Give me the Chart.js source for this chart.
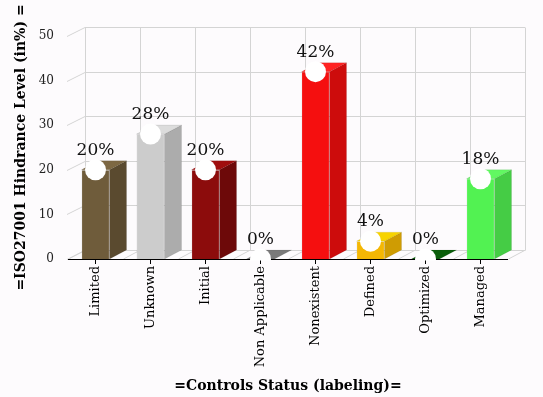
<!DOCTYPE html>
<html lang="en">
<head>
    <meta charset="UTF-8">
    <title>ISO27001 Hindrance Level</title>
    <style>
        body {
            margin: 0;
            padding: 0;
            background-color: #fdfbfd;
        }

        .chart-box {
            width: 543px;
            height: 397px;
            position: relative;
        }
    </style>
</head>
<body>
    <div class="chart-box">
        <canvas id="plot"></canvas>
    </div>
    <script src="https://cdn.jsdelivr.net/npm/chart.js"></script>
    <script>
        const categories = ['Limited', 'Unknown', 'Initial', 'Non Applicable', 'Nonexistent', 'Defined', 'Optimized', 'Managed'];
        const hindrance = [20, 28, 20, 0, 42, 4, 0, 18];
        const yMin = 0;
        const yMax = 50;
        const yStep = 10;

        // face colours for the fake 3d bars
        const frontColors = ['#6f5c3b', '#cccccc', '#8c0c0c', '#7a7a7a', '#f50f0f', '#f4b704', '#0b5e0b', '#52f252'];
        const sideColors = ['#5a4a2f', '#acacac', '#6d0909', '#666666', '#cd0c0c', '#cf9c03', '#084a08', '#45cc45'];
        const topColors = ['#7d6843', '#dcdcdc', '#a00e0e', '#7a7a7a', '#ff2222', '#f7d300', '#0b5e0b', '#62f862'];

        const DX = 17;
        const DY = 9;
        const serif = "'DejaVu Serif', serif";
        const gridColor = '#d4d4d4';

        function poly(ctx, pts, fill) {
            ctx.beginPath();
            ctx.moveTo(pts[0][0], pts[0][1]);
            for (let i = 1; i < pts.length; i++) ctx.lineTo(pts[i][0], pts[i][1]);
            ctx.closePath();
            ctx.fillStyle = fill;
            ctx.fill();
            ctx.strokeStyle = 'rgba(0,0,0,0.12)';
            ctx.lineWidth = 0.6;
            ctx.stroke();
        }

        const box3d = {
            id: 'box3d',
            beforeDatasetsDraw(chart) {
                const { ctx, chartArea: { left, right, top, bottom }, scales: { x, y } } = chart;
                ctx.save();
                ctx.strokeStyle = gridColor;
                ctx.lineWidth = 1;
                // back wall horizontal lines + left diagonals
                y.ticks.forEach(t => {
                    const py = Math.round(y.getPixelForValue(t.value)) + 0.5;
                    ctx.beginPath();
                    ctx.moveTo(left - 1, py);
                    ctx.lineTo(left + DX, py - DY);
                    ctx.lineTo(right + DX, py - DY);
                    ctx.stroke();
                });
                // category boundaries: back wall verticals and floor diagonals
                for (let i = 0; i <= categories.length; i++) {
                    const bx = Math.round(x.getPixelForValue(i - 0.5)) + 0.5;
                    ctx.beginPath();
                    ctx.moveTo(bx + DX, Math.round(top) - DY + 0.5);
                    ctx.lineTo(bx + DX, Math.round(bottom) - DY + 0.5);
                    ctx.moveTo(bx, bottom);
                    ctx.lineTo(bx + DX, bottom - DY);
                    ctx.stroke();
                }
                ctx.restore();
            },
            afterDatasetDraw(chart, args) {
                if (args.index !== 1) return;
                const { ctx, chartArea: { left, right, bottom } } = chart;
                ctx.save();
                args.meta.data.forEach((bar, i) => {
                    const { x, y, base, width } = bar.getProps(['x', 'y', 'base', 'width'], true);
                    const l = x - width / 2;
                    const r = x + width / 2;
                    if (base - y > 0.5) {
                        poly(ctx, [[r, y], [r + DX, y - DY], [r + DX, base - DY], [r, base]], sideColors[i]);
                    }
                    poly(ctx, [[l, y], [l + DX, y - DY], [r + DX, y - DY], [r, y]], topColors[i]);
                });
                // front floor edge
                ctx.strokeStyle = '#000';
                ctx.lineWidth = 1;
                ctx.beginPath();
                ctx.moveTo(left, Math.round(bottom) + 0.5);
                ctx.lineTo(right, Math.round(bottom) + 0.5);
                ctx.stroke();
                ctx.restore();
            },
            afterDatasetsDraw(chart) {
                const { ctx } = chart;
                const meta = chart.getDatasetMeta(0);
                ctx.save();
                ctx.font = '17px ' + serif;
                ctx.fillStyle = '#111';
                ctx.textAlign = 'center';
                ctx.textBaseline = 'alphabetic';
                meta.data.forEach((pt, i) => {
                    ctx.fillText(hindrance[i] + '%', pt.x, pt.y - 15);
                });
                ctx.restore();
            }
        };

        const ctx = document.getElementById('plot').getContext('2d');
        new Chart(ctx, {
            type: 'bar',
            data: {
                labels: categories,
                datasets: [{
                    type: 'line',
                    data: hindrance,
                    showLine: false,
                    pointRadius: 10.5,
                    pointHoverRadius: 10.5,
                    pointBackgroundColor: '#ffffff',
                    pointBorderColor: '#ffffff',
                    pointBorderWidth: 0,
                    clip: { left: 20, right: 20, top: 20, bottom: 1.5 },
                    order: 0
                }, {
                    data: hindrance,
                    backgroundColor: frontColors,
                    borderColor: 'rgba(0,0,0,0.12)',
                    borderWidth: 0.6,
                    barPercentage: 0.51,
                    categoryPercentage: 1,
                    order: 1
                }]
            },
            options: {
                responsive: true,
                maintainAspectRatio: false,
                animation: false,
                layout: { padding: { top: 36, right: 35, left: 0, bottom: 0 } },
                plugins: {
                    legend: { display: false },
                    tooltip: { enabled: false }
                },
                scales: {
                    x: {
                        grid: { drawOnChartArea: false, drawTicks: true, tickLength: 5, color: '#000', offset: false },
                        border: { display: false },
                        ticks: {
                            color: '#000',
                            font: { family: serif, size: 13 },
                            minRotation: 90,
                            maxRotation: 90,
                            padding: 2,
                            autoSkip: false
                        },
                        title: {
                            display: true,
                            text: '=Controls Status (labeling)=',
                            color: '#000',
                            font: { family: serif, size: 14, weight: 'bold' },
                            padding: { top: 4, bottom: 2 }
                        },
                        afterFit(scale) { scale.height = 138; }
                    },
                    y: {
                        min: yMin,
                        max: yMax,
                        ticks: {
                            stepSize: yStep,
                            color: '#222',
                            font: { family: serif, size: 12 },
                            padding: 14
                        },
                        grid: { display: false, drawTicks: false },
                        border: { display: false },
                        title: {
                            display: true,
                            text: '=ISO27001 Hindrance Level (in%) =',
                            color: '#000',
                            font: { family: serif, size: 14, weight: 'bold' },
                            padding: { top: 13, bottom: 2 }
                        },
                        afterFit(scale) { scale.width = 68; }
                    }
                }
            },
            plugins: [box3d]
        });
    </script>
</body>
</html>
